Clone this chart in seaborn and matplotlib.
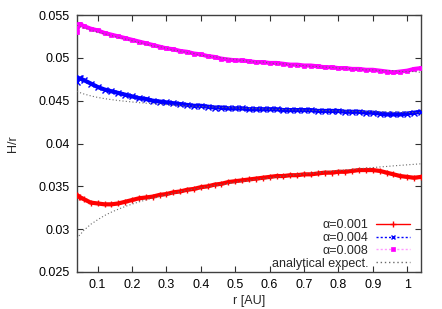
import matplotlib
matplotlib.use("Agg")
import matplotlib.pyplot as plt
import seaborn as sns
import pandas as pd

# ---- data ----
r = [0.040, 0.045, 0.050, 0.06, 0.08, 0.10, 0.12, 0.14, 0.16, 0.18, 0.20,
     0.22, 0.24, 0.26, 0.28, 0.30, 0.32, 0.34, 0.36, 0.38, 0.40,
     0.42, 0.44, 0.46, 0.48, 0.50, 0.52, 0.54, 0.56, 0.58, 0.60,
     0.62, 0.64, 0.66, 0.68, 0.70, 0.72, 0.74, 0.76, 0.78, 0.80,
     0.82, 0.84, 0.86, 0.88, 0.90, 0.92, 0.94, 0.96, 0.98, 1.00,
     1.02, 1.04]

h_a001 = [0.0340, 0.0338, 0.0337, 0.0335, 0.0331, 0.0330, 0.0329, 0.0329, 0.0330, 0.0332, 0.0334,
          0.0336, 0.0337, 0.0338, 0.0340, 0.0341, 0.0343, 0.0344, 0.0346, 0.0347, 0.0349,
          0.0350, 0.0352, 0.0353, 0.0355, 0.0356, 0.0357, 0.0358, 0.0359, 0.0360, 0.0361,
          0.0362, 0.0362, 0.0363, 0.0363, 0.0364, 0.0364, 0.0365, 0.0366, 0.0366, 0.0367,
          0.0367, 0.0368, 0.0369, 0.0369, 0.0369, 0.0368, 0.0366, 0.0364, 0.0362, 0.0361,
          0.0360, 0.0361]

h_a004 = [0.0472, 0.0476, 0.0476, 0.0474, 0.0470, 0.0466, 0.0463, 0.0461, 0.0459, 0.0457, 0.0455,
          0.0453, 0.0452, 0.0450, 0.0449, 0.0448, 0.0447, 0.0446, 0.0445, 0.0444, 0.0444,
          0.0443, 0.0442, 0.0442, 0.0441, 0.0441, 0.0441, 0.0440, 0.0440, 0.0440, 0.0440,
          0.0440, 0.0439, 0.0439, 0.0439, 0.0439, 0.0439, 0.0438, 0.0438, 0.0438, 0.0438,
          0.0437, 0.0437, 0.0437, 0.0436, 0.0436, 0.0435, 0.0434, 0.0434, 0.0434, 0.0435,
          0.0436, 0.0437]

h_a008 = [0.0530, 0.0539, 0.0539, 0.0537, 0.0534, 0.0532, 0.0529, 0.0527, 0.0525, 0.0523, 0.0521,
          0.0519, 0.0517, 0.0515, 0.0513, 0.0511, 0.0510, 0.0508, 0.0507, 0.0505, 0.0504,
          0.0502, 0.0501, 0.0499, 0.0498, 0.0497, 0.0497, 0.0496, 0.0495, 0.0495, 0.0494,
          0.0494, 0.0493, 0.0492, 0.0492, 0.0491, 0.0491, 0.0490, 0.0489, 0.0489, 0.0488,
          0.0488, 0.0487, 0.0487, 0.0486, 0.0486, 0.0485, 0.0484, 0.0483, 0.0484, 0.0485,
          0.0487, 0.0488]

an_a001 = [0.02890, 0.02920, 0.02940, 0.02987, 0.03057, 0.03110, 0.03159, 0.03199, 0.03233, 0.03265, 0.03292,
           0.03318, 0.03341, 0.03363, 0.03383, 0.03400, 0.03420, 0.03437, 0.03453, 0.03468, 0.03483,
           0.03496, 0.03510, 0.03522, 0.03534, 0.03546, 0.03557, 0.03568, 0.03579, 0.03589, 0.03599,
           0.03608, 0.03618, 0.03627, 0.03636, 0.03644, 0.03652, 0.03660, 0.03668, 0.03676, 0.03684,
           0.03691, 0.03698, 0.03705, 0.03712, 0.03719, 0.03726, 0.03732, 0.03739, 0.03745, 0.03751,
           0.03757, 0.03763]

an_a004 = [0.04610, 0.04601, 0.04592, 0.04578, 0.04556, 0.04538, 0.04524, 0.04512, 0.04502, 0.04493, 0.04485,
           0.04477, 0.04471, 0.04465, 0.04459, 0.04454, 0.04449, 0.04444, 0.04440, 0.04436, 0.04432,
           0.04428, 0.04425, 0.04421, 0.04418, 0.04415, 0.04412, 0.04409, 0.04407, 0.04404, 0.04401,
           0.04399, 0.04397, 0.04394, 0.04392, 0.04390, 0.04388, 0.04386, 0.04384, 0.04382, 0.04380,
           0.04378, 0.04376, 0.04374, 0.04373, 0.04371, 0.04369, 0.04368, 0.04366, 0.04365, 0.04363,
           0.04362, 0.04360]

an_a008 = [0.0538, 0.0537, 0.0536, 0.0535, 0.0532, 0.0530, 0.0528, 0.0526, 0.0524, 0.0522, 0.0520,
           0.0518, 0.0516, 0.0514, 0.0513, 0.0511, 0.0509, 0.0508, 0.0506, 0.0505, 0.0503,
           0.0502, 0.0501, 0.0500, 0.0499, 0.0498, 0.0497, 0.0496, 0.0495, 0.0495, 0.0494,
           0.0493, 0.0493, 0.0492, 0.0491, 0.0491, 0.0490, 0.0490, 0.0489, 0.0489, 0.0488,
           0.0488, 0.0487, 0.0487, 0.0486, 0.0486, 0.0485, 0.0485, 0.0485, 0.0484, 0.0484,
           0.0484, 0.0483]

labels = ["\u03b1=0.001", "\u03b1=0.004", "\u03b1=0.008", "analytical expect."]
xticks = [0.1, 0.2, 0.3, 0.4, 0.5, 0.6, 0.7, 0.8, 0.9, 1.0]
xticklabels = ["0.1", "0.2", "0.3", "0.4", "0.5", "0.6", "0.7", "0.8", "0.9", "1"]
yticks = [0.025, 0.03, 0.035, 0.04, 0.045, 0.05, 0.055]
yticklabels = ["0.025", "0.03", "0.035", "0.04", "0.045", "0.05", "0.055"]

# ---- style ----
sns.set_style("ticks")
plt.rcParams["font.family"] = ["Liberation Sans", "DejaVu Sans"]
plt.rcParams["font.size"] = 9

fig = plt.figure(figsize=(4.42, 3.09), dpi=100)
ax = fig.add_axes([77 / 442, 37 / 309, 344 / 442, 257 / 309])

df = pd.DataFrame({"r": r, "a001": h_a001, "a004": h_a004, "a008": h_a008,
                   "an001": an_a001, "an004": an_a004, "an008": an_a008})

RED, BLUE, MAG = "#ff0000", "#0000ff", "#ff00ff"
GRAY = "#6a6a6a"
sns.lineplot(data=df, x="r", y="a001", ax=ax, color=RED, lw=3.0,
             marker="+", markersize=4.5, markeredgewidth=1.0, markeredgecolor=RED,
             label=labels[0], zorder=3)
sns.lineplot(data=df, x="r", y="a004", ax=ax, color=BLUE, lw=3.0, linestyle="-",
             marker="x", markersize=3.8, markeredgewidth=1.0, markeredgecolor=BLUE,
             label=labels[1], zorder=3)
sns.lineplot(data=df, x="r", y="a008", ax=ax, color=MAG, lw=3.0, linestyle="-",
             marker="s", markersize=3.2, markeredgewidth=0.5, markeredgecolor=MAG,
             label=labels[2], zorder=3)
for i, col in enumerate(["an001", "an004", "an008"]):
    sns.lineplot(data=df, x="r", y=col, ax=ax, color=GRAY, lw=0.8,
                 linestyle=(0, (1, 2)), label=labels[3] if i == 0 else "_nolegend_",
                 zorder=4)

ax.set_xlim(0.04, 1.04)
ax.set_ylim(0.025, 0.055)
ax.set_xticks(xticks)
ax.set_xticklabels(xticklabels)
ax.set_yticks(yticks)
ax.set_yticklabels(yticklabels)
ax.tick_params(direction="in", length=4, width=0.8, top=True, right=True,
               colors="#303030", labelcolor="black", labelsize=9, pad=5)
for s in ax.spines.values():
    s.set_color("#404040")
    s.set_linewidth(1.0)
    s.set_visible(True)

ax.set_xlabel("r [AU]", fontsize=9, labelpad=3)
ax.set_ylabel("H/r", fontsize=9, labelpad=14)

handles, labs = ax.get_legend_handles_labels()
leg = ax.legend(handles, labs, loc="lower right", frameon=False, markerfirst=False,
                bbox_to_anchor=(1 - 9 / 344, 0.0),
                labelspacing=0.06, handlelength=2.7, handletextpad=0.6,
                borderaxespad=0.0, borderpad=0.2, fontsize=9, numpoints=1)
legend_ls = ["-", (0, (1.5, 1.5)), (0, (1.5, 1.5)), (0, (1, 2))]
legend_ms = [5, 3.5, 3, 0]
legend_lc = [RED, BLUE, "#ff99ff", GRAY]
for h, ls, ms, lc in zip(leg.get_lines(), legend_ls, legend_ms, legend_lc):
    h.set_linewidth(1.0)
    h.set_linestyle(ls)
    h.set_markersize(ms)
    h.set_color(lc)
leg.get_lines()[2].set_markerfacecolor(MAG)
leg.get_lines()[2].set_markeredgecolor(MAG)

fig.savefig("out.png", dpi=100)
